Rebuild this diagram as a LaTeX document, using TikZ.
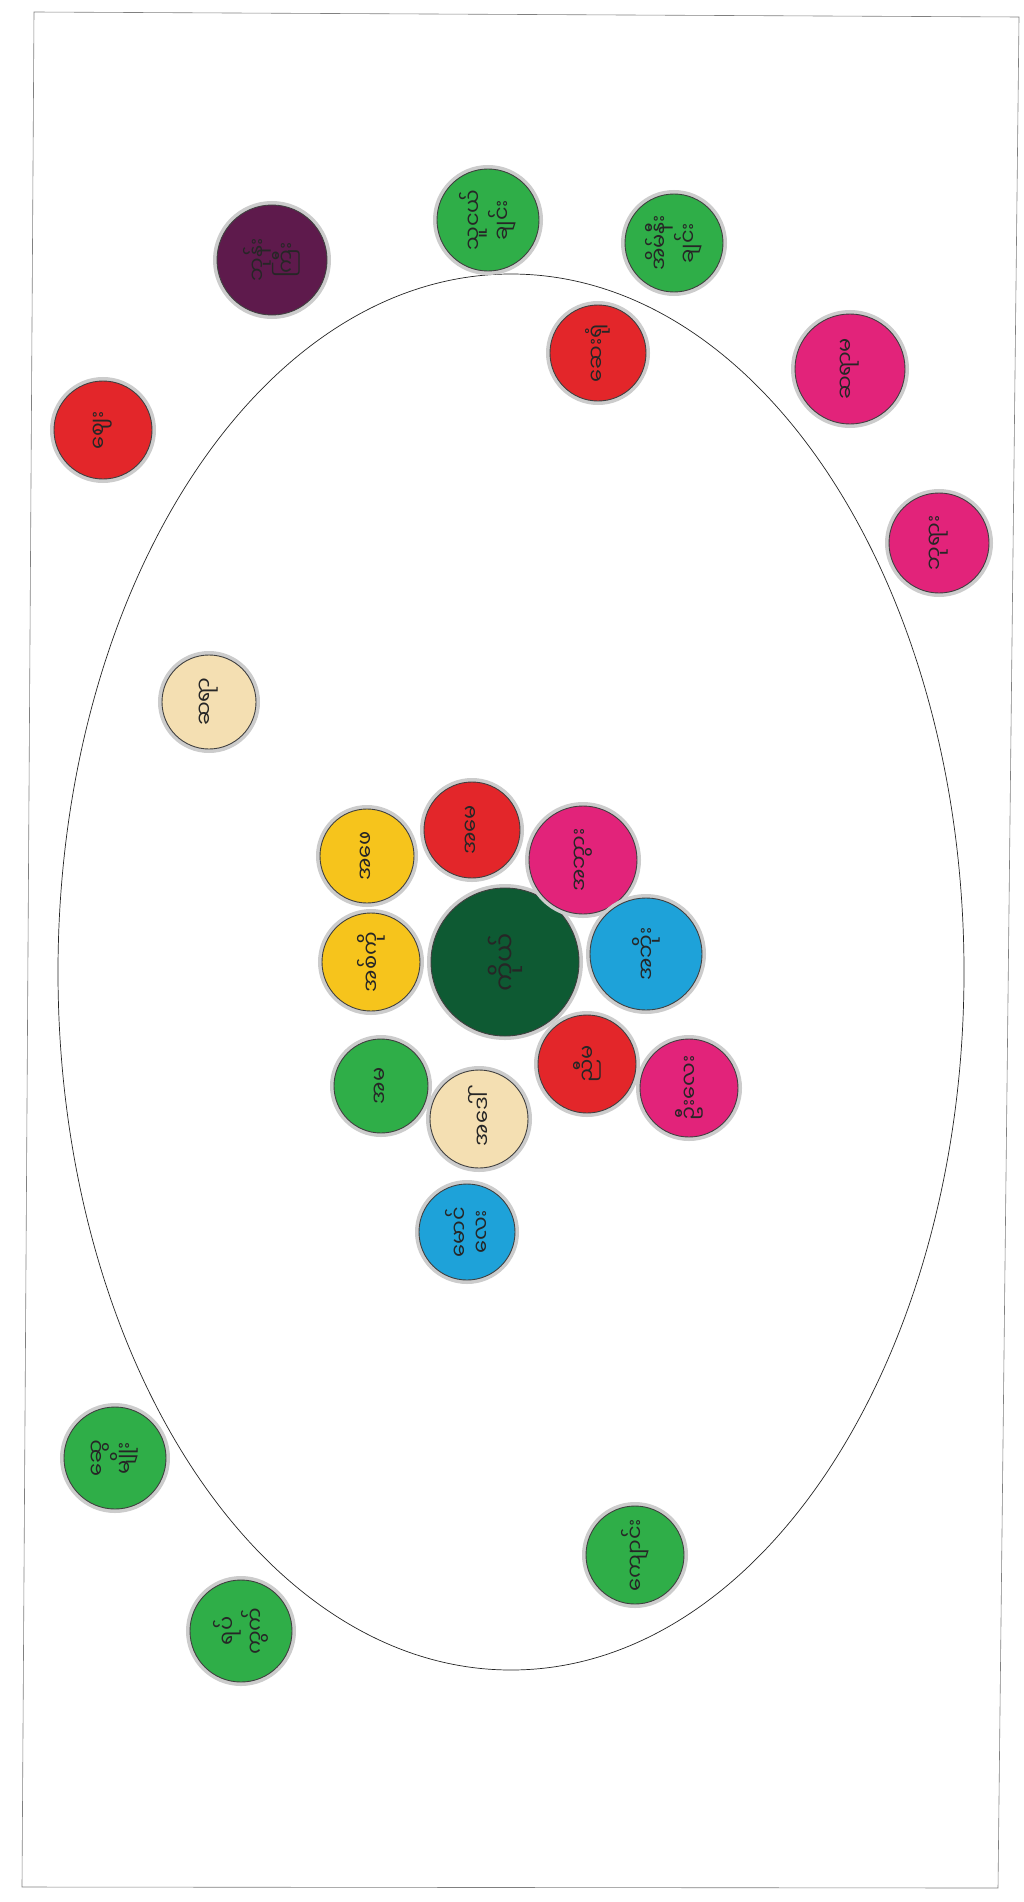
\documentclass[tikz,border=0pt]{standalone}
\usepackage{fontspec}
\newfontfamily\mmfont[Script=Myanmar]{Noto Sans Myanmar UI}
\usetikzlibrary{positioning}

\definecolor{ecoGreen}{HTML}{2FAE48}
\definecolor{ecoDark}{HTML}{0E5A33}
\definecolor{ecoRed}{HTML}{E3262A}
\definecolor{ecoPink}{HTML}{E2237A}
\definecolor{ecoPlum}{HTML}{5E1A4C}
\definecolor{ecoSand}{HTML}{F4DFB2}
\definecolor{ecoYellow}{HTML}{F6C41C}
\definecolor{ecoBlue}{HTML}{1EA2D9}

\tikzset{
  eco/frame/.style={draw=black!50, line width=0.6pt},
  eco/orbit/.style={draw=black!85, line width=0.7pt},
  eco/bubble/.style={circle, fill=#1, draw=black!75, line width=0.9pt,
    preaction={draw=black!20, line width=8pt},
    inner sep=0pt, align=center, rotate=90, text=black!85,
    font=\mmfont\fontsize{21}{22}\selectfont},
}

\begin{document}
\begin{tikzpicture}[x=1pt, y=-1pt]
  \useasboundingbox (0,0) rectangle (1024,1902);
  \fill[white] (0,0) rectangle (1024,1902);

  % sheet and boundary
  \draw[eco/frame] (34,12) -- (1019,17) -- (998,1888) -- (22,1887) -- cycle;
  \draw[eco/orbit] (511,972) ellipse [x radius=453, y radius=698];

  % centre
  \node[eco/bubble=ecoDark, minimum size=148pt, font=\mmfont\fontsize{26}{28}\selectfont] (self) at (505,962) {ကိုယ်};

  % inner ring
  \node[eco/bubble=ecoYellow, minimum size=94pt] (father) at (367,856) {အဖေ};
  \node[eco/bubble=ecoRed, minimum size=96pt] (mother) at (472,830) {အမေ};
  \node[eco/bubble=ecoPink, minimum size=108pt] (granma) at (583,860) {အဘွား};
  \node[eco/bubble=ecoBlue, minimum size=112pt] (granpa) at (646,954) {အဘိုး};
  \node[eco/bubble=ecoYellow, minimum size=98pt] (brother) at (371,962) {အစ်ကို};
  \node[eco/bubble=ecoRed, minimum size=98pt] (sister) at (587,1064) {ညီမ};
  \node[eco/bubble=ecoPink, minimum size=98pt] (uncle) at (689,1088) {ဦးလေး};
  \node[eco/bubble=ecoGreen, minimum size=94pt] (elder) at (381,1086) {အမ};
  \node[eco/bubble=ecoSand, minimum size=98pt] (aunt) at (479,1119) {အဒေါ်};
  \node[eco/bubble=ecoBlue, minimum size=96pt] (younger) at (467,1232) {မောင်\\လေး};

  % inside the boundary
  \node[eco/bubble=ecoSand, minimum size=94pt] (teacher) at (209,702) {ဆရာ};
  \node[eco/bubble=ecoGreen, minimum size=98pt] (school) at (635,1555) {ကျောင်း};

  % outside the boundary
  \node[eco/bubble=ecoPlum, minimum size=110pt] (monk) at (272,260) {ဘုန်း\\ကြီး};
  \node[eco/bubble=ecoGreen, minimum size=102pt] (friend) at (488,220) {သူငယ်\\ချင်း};
  \node[eco/bubble=ecoGreen, minimum size=98pt] (neighbour) at (674,243) {အိမ်နီး\\ချင်း};
  \node[eco/bubble=ecoRed, minimum size=96pt] (clinic) at (598,353) {ဆေးရုံ};
  \node[eco/bubble=ecoPink, minimum size=110pt] (mistress) at (850,369) {ဆရာမ};
  \node[eco/bubble=ecoPink, minimum size=100pt] (pagoda) at (939,543) {ဘုရား};
  \node[eco/bubble=ecoRed, minimum size=98pt] (market) at (103,430) {ဈေး};
  \node[eco/bubble=ecoGreen, minimum size=102pt] (kin) at (115,1458) {ဆွေ\\မျိုး};
  \node[eco/bubble=ecoGreen, minimum size=102pt] (ward) at (241,1631) {ရပ်\\ကွက်};

\end{tikzpicture}
\end{document}
